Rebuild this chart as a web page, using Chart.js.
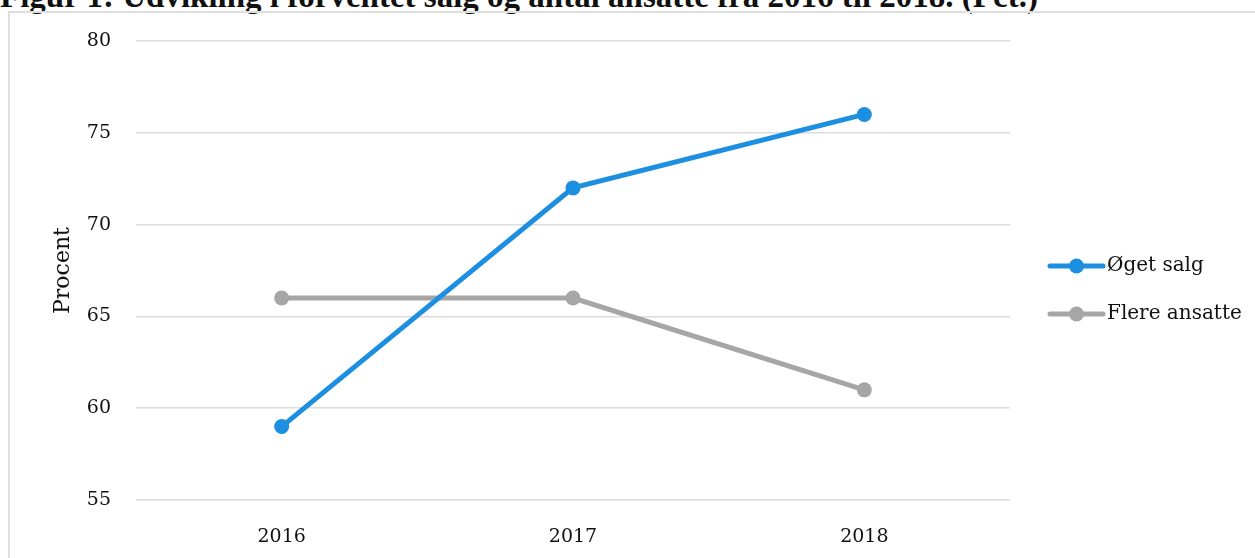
<!DOCTYPE html>
<html>
<head>
<meta charset="utf-8">
<script src="https://cdn.jsdelivr.net/npm/chart.js@4/dist/chart.umd.min.js"></script>
<style>
  html, body { margin: 0; padding: 0; background: #fff; overflow: hidden; }
  #wrap { position: relative; width: 1255px; height: 558px; }
  #title {
    position: absolute; left: 0; top: -22px; white-space: nowrap;
    font: bold 33px "Liberation Serif", serif; color: #111;
  }
  #frame {
    position: absolute; left: 8px; top: 11px; width: 1260px; height: 600px;
    border: 2px solid #dedede; box-sizing: border-box;
  }
  canvas { position: absolute; left: 0; top: 0; }
</style>
</head>
<body>
<div id="wrap">
  <div id="title">Figur 1: Udvikling i forventet salg og antal ansatte fra 2016 til 2018. (Pct.)</div>
  <div id="frame"></div>
  <canvas id="chart" width="1255" height="558"></canvas>
</div>
<script>
const years = ['2016', '2017', '2018'];
const salg = [59, 72, 76];
const ansatte = [66, 66, 61];
const seriesNames = ['Øget salg', 'Flere ansatte'];
const yTicks = [55, 60, 65, 70, 75, 80];

const blue = '#1c8fe0';
const grey = '#a6a6a6';
const fontFam = '"DejaVu Serif", "Liberation Serif", serif';

// legend drawn by hand: line + dot sample like the original
const sideLegend = {
  id: 'sideLegend',
  afterDraw(chart) {
    const ctx = chart.ctx;
    const x0 = 1050, x1 = 1103;
    chart.data.datasets.forEach((ds, i) => {
      const y = 266 + i * 48;
      ctx.save();
      ctx.strokeStyle = ds.borderColor;
      ctx.lineWidth = 5;
      ctx.lineCap = 'round';
      ctx.beginPath();
      ctx.moveTo(x0, y);
      ctx.lineTo(x1, y);
      ctx.stroke();
      ctx.fillStyle = ds.borderColor;
      ctx.beginPath();
      ctx.arc((x0 + x1) / 2, y, 7.5, 0, Math.PI * 2);
      ctx.fill();
      ctx.fillStyle = '#111';
      ctx.font = '20px ' + fontFam;
      ctx.textBaseline = 'middle';
      ctx.fillText(ds.label, x1 + 4, y);
      ctx.restore();
    });
  }
};

new Chart(document.getElementById('chart'), {
  type: 'line',
  data: {
    labels: years,
    datasets: [
      { label: seriesNames[0], data: salg, borderColor: blue, backgroundColor: blue },
      { label: seriesNames[1], data: ansatte, borderColor: grey, backgroundColor: grey }
    ]
  },
  options: {
    responsive: false,
    animation: false,
    layout: { padding: { top: 41, right: 245, bottom: 0, left: 0 } },
    elements: {
      line: { borderWidth: 5, tension: 0 },
      point: { radius: 7.5, hoverRadius: 7.5, borderWidth: 0 }
    },
    plugins: { legend: { display: false }, tooltip: { enabled: false } },
    scales: {
      x: {
        offset: true,
        grid: { display: false },
        border: { display: false },
        ticks: { color: '#111', padding: 18, font: { family: fontFam, size: 19 } },
        afterFit(axis) { axis.height = 58; }
      },
      y: {
        min: 55, max: 80,
        afterBuildTicks(axis) { axis.ticks = yTicks.map(v => ({ value: v })); },
        grid: { color: '#dcdcdc', lineWidth: 1.5, drawTicks: false },
        border: { display: false },
        ticks: { color: '#111', padding: 25, font: { family: fontFam, size: 19 } },
        title: {
          display: true, text: 'Procent', color: '#111',
          font: { family: fontFam, size: 22 },
          padding: { top: 50, bottom: 0 }
        },
        afterFit(axis) { axis.width = 136; }
      }
    }
  },
  plugins: [sideLegend]
});
</script>
</body>
</html>
